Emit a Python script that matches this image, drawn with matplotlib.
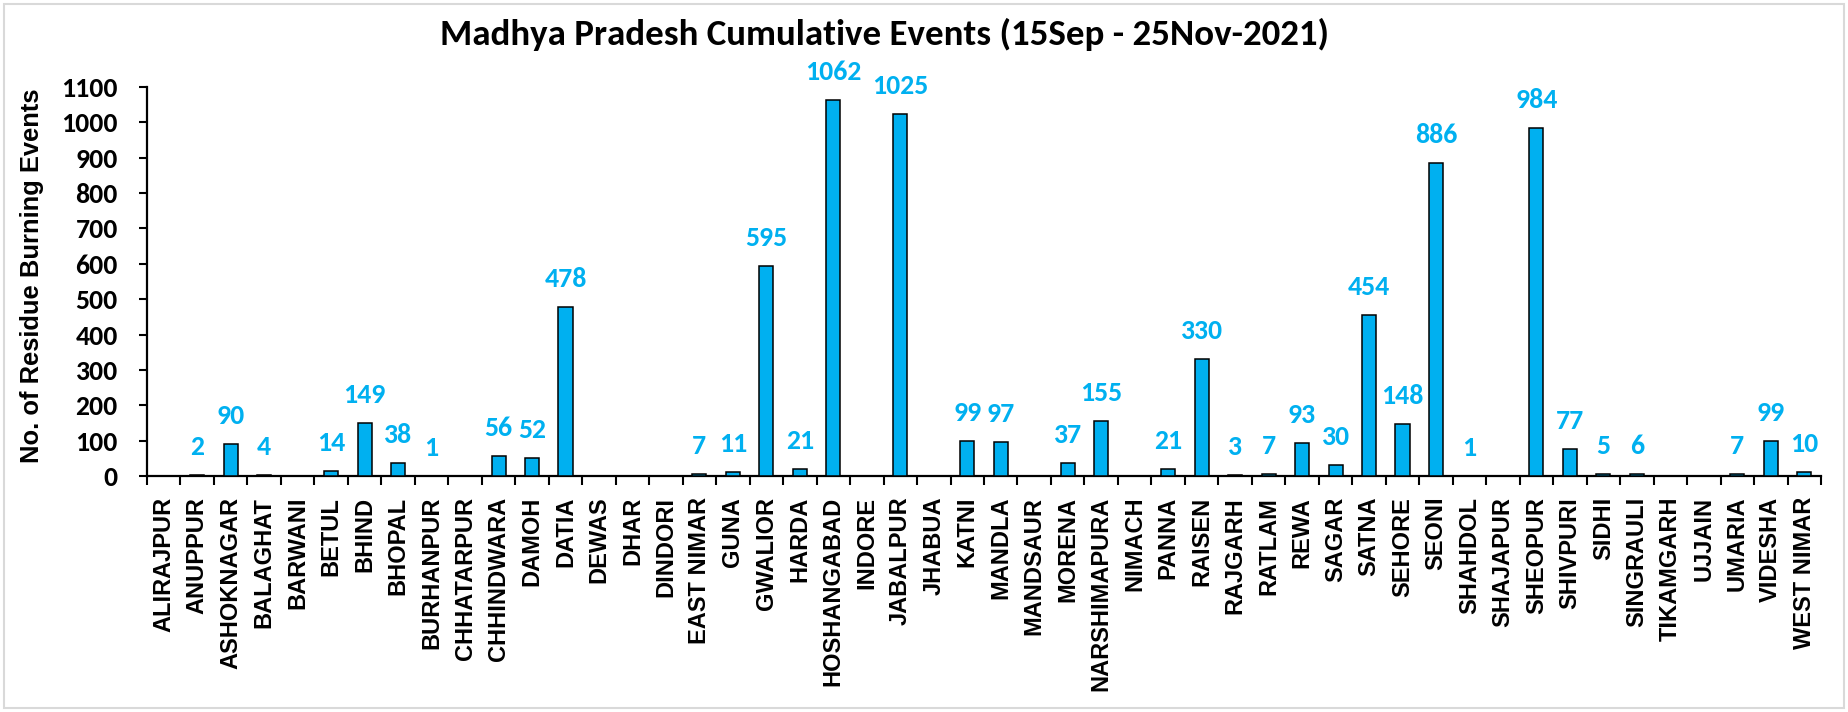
import matplotlib
matplotlib.use("Agg")
import matplotlib.pyplot as plt
from matplotlib import font_manager
from matplotlib.patches import Rectangle

districts = [
    "ALIRAJPUR", "ANUPPUR", "ASHOKNAGAR", "BALAGHAT", "BARWANI", "BETUL",
    "BHIND", "BHOPAL", "BURHANPUR", "CHHATARPUR", "CHHINDWARA", "DAMOH",
    "DATIA", "DEWAS", "DHAR", "DINDORI", "EAST NIMAR", "GUNA", "GWALIOR",
    "HARDA", "HOSHANGABAD", "INDORE", "JABALPUR", "JHABUA", "KATNI",
    "MANDLA", "MANDSAUR", "MORENA", "NARSHIMAPURA", "NIMACH", "PANNA",
    "RAISEN", "RAJGARH", "RATLAM", "REWA", "SAGAR", "SATNA", "SEHORE",
    "SEONI", "SHAHDOL", "SHAJAPUR", "SHEOPUR", "SHIVPURI", "SIDHI",
    "SINGRAULI", "TIKAMGARH", "UJJAIN", "UMARIA", "VIDESHA", "WEST NIMAR",
]
events = [
    0, 2, 90, 4, 0, 14,
    149, 38, 1, 0, 56, 52,
    478, 0, 0, 0, 7, 11, 595,
    21, 1062, 0, 1025, 0, 99,
    97, 0, 37, 155, 0, 21,
    330, 3, 7, 93, 30, 454, 148,
    886, 1, 0, 984, 77, 5,
    6, 0, 0, 7, 99, 10,
]

title = "Madhya Pradesh Cumulative Events (15Sep - 25Nov-2021)"
ylabel = "No. of Residue Burning Events"
y_ticks = list(range(0, 1101, 100))

BLUE = "#00B0F0"

installed = {f.name for f in font_manager.fontManager.ttflist}
narrow = next((f for f in ["Carlito", "Liberation Sans Narrow", "Lato", "Open Sans"]
               if f in installed), "DejaVu Sans")
arial = "Liberation Sans" if "Liberation Sans" in installed else "DejaVu Sans"

W, H = 1848, 712
fig = plt.figure(figsize=(W / 100, H / 100), dpi=100)
fig.patch.set_facecolor("white")

# light chart-area frame
fig.add_artist(Rectangle((4 / W, 4 / H), 1 - 8 / W, 1 - 8 / H, transform=fig.transFigure,
                         fill=False, edgecolor="#d9d9d9", linewidth=1.5))

ax = fig.add_axes([147 / W, 1 - 476 / H, (1821 - 147) / W, (476 - 87) / H])
x = list(range(len(districts)))
ax.bar(x, events, width=0.42, color=BLUE, edgecolor="black", linewidth=1.1, zorder=3)

for xi, v in zip(x, events):
    if v > 0:
        ax.annotate(str(v), (xi, v), xytext=(0, 14.4), textcoords="offset points",
                    ha="center", va="baseline", color=BLUE, fontsize=20,
                    fontweight="bold", family=narrow)

ax.set_xlim(-0.5, len(districts) - 0.5)
ax.set_ylim(0, 1100)
ax.set_yticks(y_ticks)
ax.set_yticklabels([str(t) for t in y_ticks], fontsize=20, fontweight="bold", family=narrow)
ax.set_xticks(x)
ax.set_xticklabels(districts, rotation=90, fontsize=17, fontweight="bold", family=arial)
ax.set_xticks([i - 0.5 for i in range(len(districts) + 1)], minor=True)

ax.tick_params(axis="x", which="major", length=0, pad=15)
ax.tick_params(axis="x", which="minor", length=6.5, width=1.5, direction="out")
ax.tick_params(axis="y", which="major", length=6, width=1.5, pad=15)

for s in ["top", "right"]:
    ax.spines[s].set_visible(False)
for s in ["left", "bottom"]:
    ax.spines[s].set_linewidth(1.6)
    ax.spines[s].set_color("black")

fig.text(885 / W, 1 - 45 / H, title, ha="center", va="baseline", fontsize=26.6,
         fontweight="bold", family=narrow)
fig.text(32 / W, 1 - 276 / H, ylabel, ha="center", va="center", rotation=90,
         fontsize=18.4, fontweight="bold", family=arial)

fig.savefig("out.png", dpi=100)
